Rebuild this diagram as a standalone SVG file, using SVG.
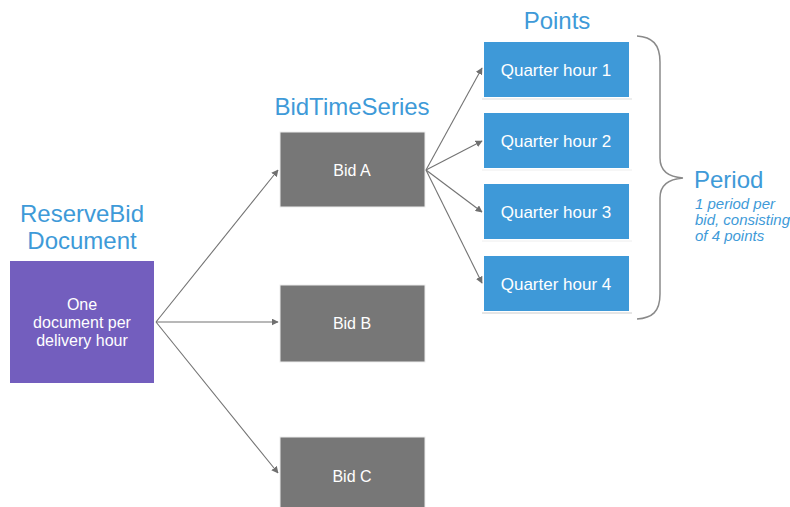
<svg xmlns="http://www.w3.org/2000/svg" width="790" height="507" viewBox="0 0 790 507">
<defs>
<marker id="ah" viewBox="0 0 10 10" refX="9" refY="5" markerWidth="7" markerHeight="7" orient="auto" markerUnits="userSpaceOnUse">
<path d="M0,0 L10,5 L0,10 z" fill="#6f6f6f"/>
</marker>
<style>
text{font-family:"Liberation Sans",Arial,sans-serif}
.h{fill:#3e9ad8;font-size:24px;text-anchor:middle}
.w{fill:#ffffff;font-size:16px;text-anchor:middle}
.w17{fill:#ffffff;font-size:17px;text-anchor:middle}
.bid{fill:#777777;stroke:#eeeeee;stroke-width:1}
.q{fill:#3e99d8}
.it{fill:#3e9ad8;font-size:15px;font-style:italic}
.c{stroke:#737373;stroke-width:1.1;fill:none;marker-end:url(#ah)}
</style>
</defs>
<rect width="790" height="507" fill="#ffffff"/>
<g id="doc">
<text class="h" x="82" y="222">ReserveBid</text>
<text class="h" x="82" y="249">Document</text>
<rect x="10" y="261" width="144" height="122" fill="#735ebe"/>
<text class="w" x="82" y="310" font-size="16.5">One</text>
<text class="w" x="82" y="328" font-size="16.5">document per</text>
<text class="w" x="82" y="346" font-size="16.5">delivery hour</text>
</g>
<g id="bidA">
<text class="h" x="352" y="115">BidTimeSeries</text>
<rect class="bid" x="280" y="132" width="145" height="75"/>
<text class="w" x="352" y="176">Bid A</text>
</g>
<g id="bidB">
<rect class="bid" x="280" y="285" width="145" height="77"/>
<text class="w" x="352" y="329">Bid B</text>
</g>
<g id="bidC">
<rect class="bid" x="280" y="437" width="145" height="75"/>
<text class="w" x="352" y="482">Bid C</text>
</g>
<g id="points">
<text class="h" x="557" y="29">Points</text>
</g>
<g id="q1">
<rect class="q" x="484" y="42" width="145" height="55"/>
<line x1="482" y1="99" x2="632" y2="99" stroke="#dddddd"/>
<text class="w17" x="556" y="76">Quarter hour 1</text>
</g>
<g id="q2">
<rect class="q" x="484" y="113" width="145" height="55"/>
<line x1="482" y1="170" x2="632" y2="170" stroke="#eeeeee"/>
<text class="w17" x="556" y="147">Quarter hour 2</text>
</g>
<g id="q3">
<rect class="q" x="484" y="184" width="145" height="55"/>
<line x1="482" y1="241" x2="632" y2="241" stroke="#eeeeee"/>
<text class="w17" x="556" y="218">Quarter hour 3</text>
</g>
<g id="q4">
<rect class="q" x="484" y="256" width="145" height="55"/>
<line x1="482" y1="313" x2="632" y2="313" stroke="#cccccc"/>
<text class="w17" x="556" y="290">Quarter hour 4</text>
</g>
<g id="period">
<path d="M637,36 C652,37 660,44 660,62 L660,158 C660,170 668,177 683,178 C668,179 660,186 660,198 L660,294 C660,312 652,318 637,319" fill="none" stroke="#8a8a8a" stroke-width="1.5"/>
<text x="694" y="188" fill="#3e9ad8" font-size="24">Period</text>
<text class="it" x="695" y="209">1 period per</text>
<text class="it" x="695" y="225">bid, consisting</text>
<text class="it" x="695" y="241">of 4 points</text>
</g>
<g id="connectors">
<line class="c" x1="156" y1="322" x2="278" y2="170"/>
<line class="c" x1="156" y1="322" x2="278" y2="322"/>
<line class="c" x1="156" y1="322" x2="278" y2="473"/>
<line class="c" x1="426" y1="170" x2="482" y2="68"/>
<line class="c" x1="426" y1="170" x2="482" y2="141"/>
<line class="c" x1="426" y1="170" x2="482" y2="212"/>
<line class="c" x1="426" y1="170" x2="482" y2="283"/>
</g>
</svg>
